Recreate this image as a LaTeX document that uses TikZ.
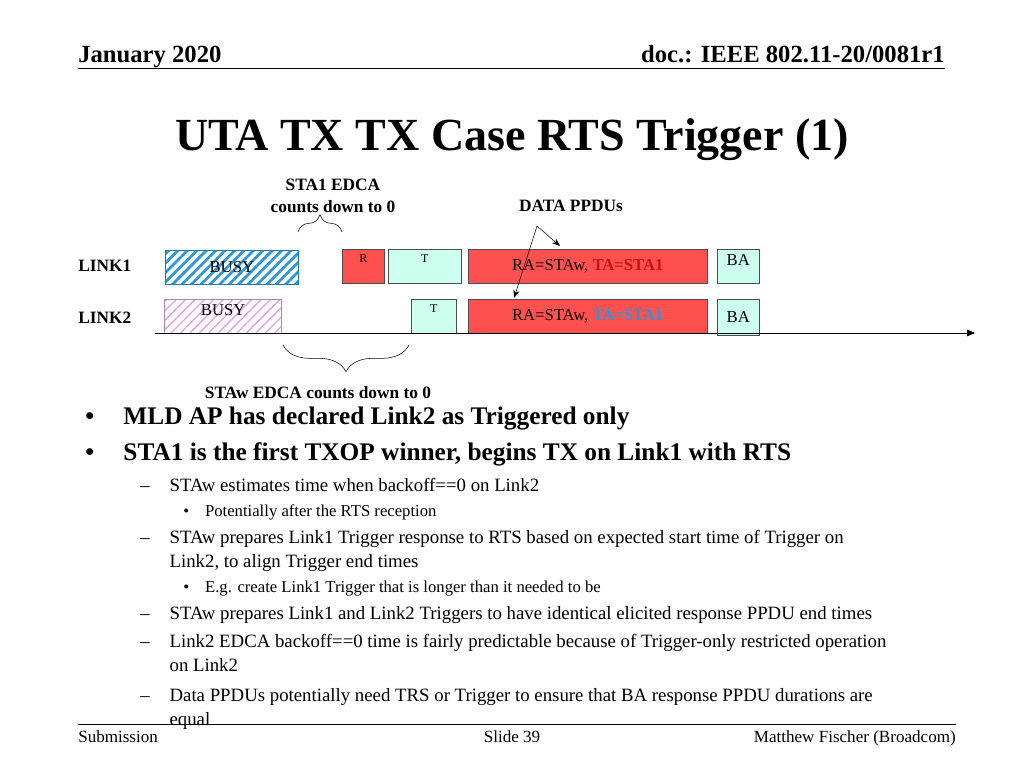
\documentclass[tikz,border=0pt]{standalone}
\usepackage{fontspec}
\setmainfont{Liberation Serif}
\usetikzlibrary{patterns.meta,decorations.pathreplacing,arrows.meta}
\definecolor{cy}{RGB}{204,255,238}
\definecolor{rd}{RGB}{255,80,80}
\definecolor{bl}{RGB}{40,150,220}
\definecolor{pk}{RGB}{225,160,230}
\definecolor{tred}{RGB}{200,20,20}
\begin{document}
\begin{tikzpicture}[x=0.75pt,y=-0.75pt,
 box/.style={draw=black!70,minimum height=25.5pt,inner sep=0pt,font=\fontsize{12.5}{14}\selectfont},
 lbl/.style={font=\bfseries\fontsize{13}{16}\selectfont,align=center,inner sep=0pt},
 b1/.style={anchor=west,inner sep=0pt,font=\bfseries\fontsize{19}{22}\selectfont},
 b2/.style={anchor=north west,inner sep=0pt,font=\fontsize{14.1}{18}\selectfont},
 b3/.style={anchor=west,inner sep=0pt,font=\fontsize{12.5}{14}\selectfont},
 ft/.style={inner sep=0pt,font=\fontsize{12.8}{15}\selectfont}]
\useasboundingbox (0,0) rectangle (1024,768);
\node[anchor=base west,inner sep=0pt,font=\bfseries\fontsize{18.5}{22}\selectfont] (d) at (78,62) {January 2020};
\node[anchor=base east,inner sep=0pt,font=\bfseries\fontsize{18.5}{22}\selectfont] (doc) at (945,62) {doc.: IEEE 802.11-20/0081r1};
\draw (78,68) -- (945,68);
\node[font=\bfseries\fontsize{34.5}{40}\selectfont] (t) at (512,140) {UTA TX TX Case RTS Trigger (1)};
\node[lbl] (s1) at (333,196) {STA1 EDCA\\counts down to 0};
\node[lbl] (dp) at (571,206) {DATA PPDUs};
\node[lbl,anchor=west] (l1) at (78,266) {LINK1};
\node[lbl,anchor=west] (l2) at (78,318) {LINK2};
\node[box,minimum width=99.75pt,pattern={Lines[angle=45,distance=5pt,line width=2pt]},pattern color=bl,draw=bl!80!black,anchor=north west] (busy1) at (164,249) {BUSY};
\node[box,minimum width=31.5pt,fill=rd,anchor=north west,text depth=12pt] (r) at (342,249) {\small R};
\node[box,minimum width=54.75pt,fill=cy,anchor=north west,text depth=12pt] (t1) at (388,249) {\small T};
\node[box,minimum width=179.25pt,fill=rd,anchor=north west] (d1) at (468,249) {RA=STAw, \textcolor{tred}{\bfseries TA=STA1}};
\node[box,minimum width=31.5pt,fill=cy,anchor=north west,text depth=10pt] (ba1) at (717,249) {BA};
\node[box,minimum width=87.75pt,pattern={Lines[angle=45,distance=5pt,line width=1pt]},pattern color=pk,draw=pk!80!black,anchor=north west,text depth=10pt] (busy2) at (164,299) {BUSY};
\node[box,minimum width=33.75pt,fill=cy,anchor=north west,text depth=12pt] (t2) at (411,299) {\small T};
\node[box,minimum width=179.25pt,fill=rd,anchor=north west] (d2) at (468,299) {RA=STAw, \textcolor{bl}{\bfseries TA=STA1}};
\node[box,minimum width=31.5pt,minimum height=27pt,fill=cy,anchor=north west] (ba2) at (717,299) {BA};
\coordinate (a0) at (155,333); \coordinate (a1) at (975,333);
\draw[-{Triangle[length=6pt,width=5pt]}] (a0) -- (a1);
\draw[decorate,decoration={brace,amplitude=13pt}] (298,232) -- (342,232);
\draw[decorate,decoration={brace,amplitude=20pt}] (409,345) -- (283,345);
\node[lbl] (s2) at (318,393) {STAw EDCA counts down to 0};
\coordinate (ap) at (537,226);
\draw[-{Stealth[length=6pt]}] (ap) -- (560,246);
\draw[-{Stealth[length=6pt]}] (ap) -- (514,298);
\node[b1] at (85,418) {•\hspace{22pt}MLD AP has declared Link2 as Triggered only};
\node[b1] at (85,454) {•\hspace{22pt}STA1 is the first TXOP winner, begins TX on Link1 with RTS};
\foreach \y/\t in {478/STAw estimates time when backoff==0 on Link2,
  530/{STAw prepares Link1 Trigger response to RTS based on expected start time of Trigger on Link2, to align Trigger end times},
  606/STAw prepares Link1 and Link2 Triggers to have identical elicited response PPDU end times,
  634/{Link2 EDCA backoff==0 time is fairly predictable because of Trigger-only restricted operation on Link2},
  688/{Data PPDUs potentially need TRS or Trigger to ensure that BA response PPDU durations are equal}}{
  \node[b2] at (140,\y) {\makebox[22pt][l]{–}\parbox[t]{540pt}{\raggedright\t}};}
\node[b3] at (183,512) {•\hspace{12pt}Potentially after the RTS reception};
\node[b3] at (183,589) {•\hspace{12pt}E.g. create Link1 Trigger that is longer than it needed to be};
\draw (78,724) -- (956,724);
\node[ft,anchor=base west] at (78,742) {Submission};
\node[ft,anchor=base] at (512,742) {Slide 39};
\node[ft,anchor=base east] at (956,742) {Matthew Fischer (Broadcom)};
\end{tikzpicture}
\end{document}
